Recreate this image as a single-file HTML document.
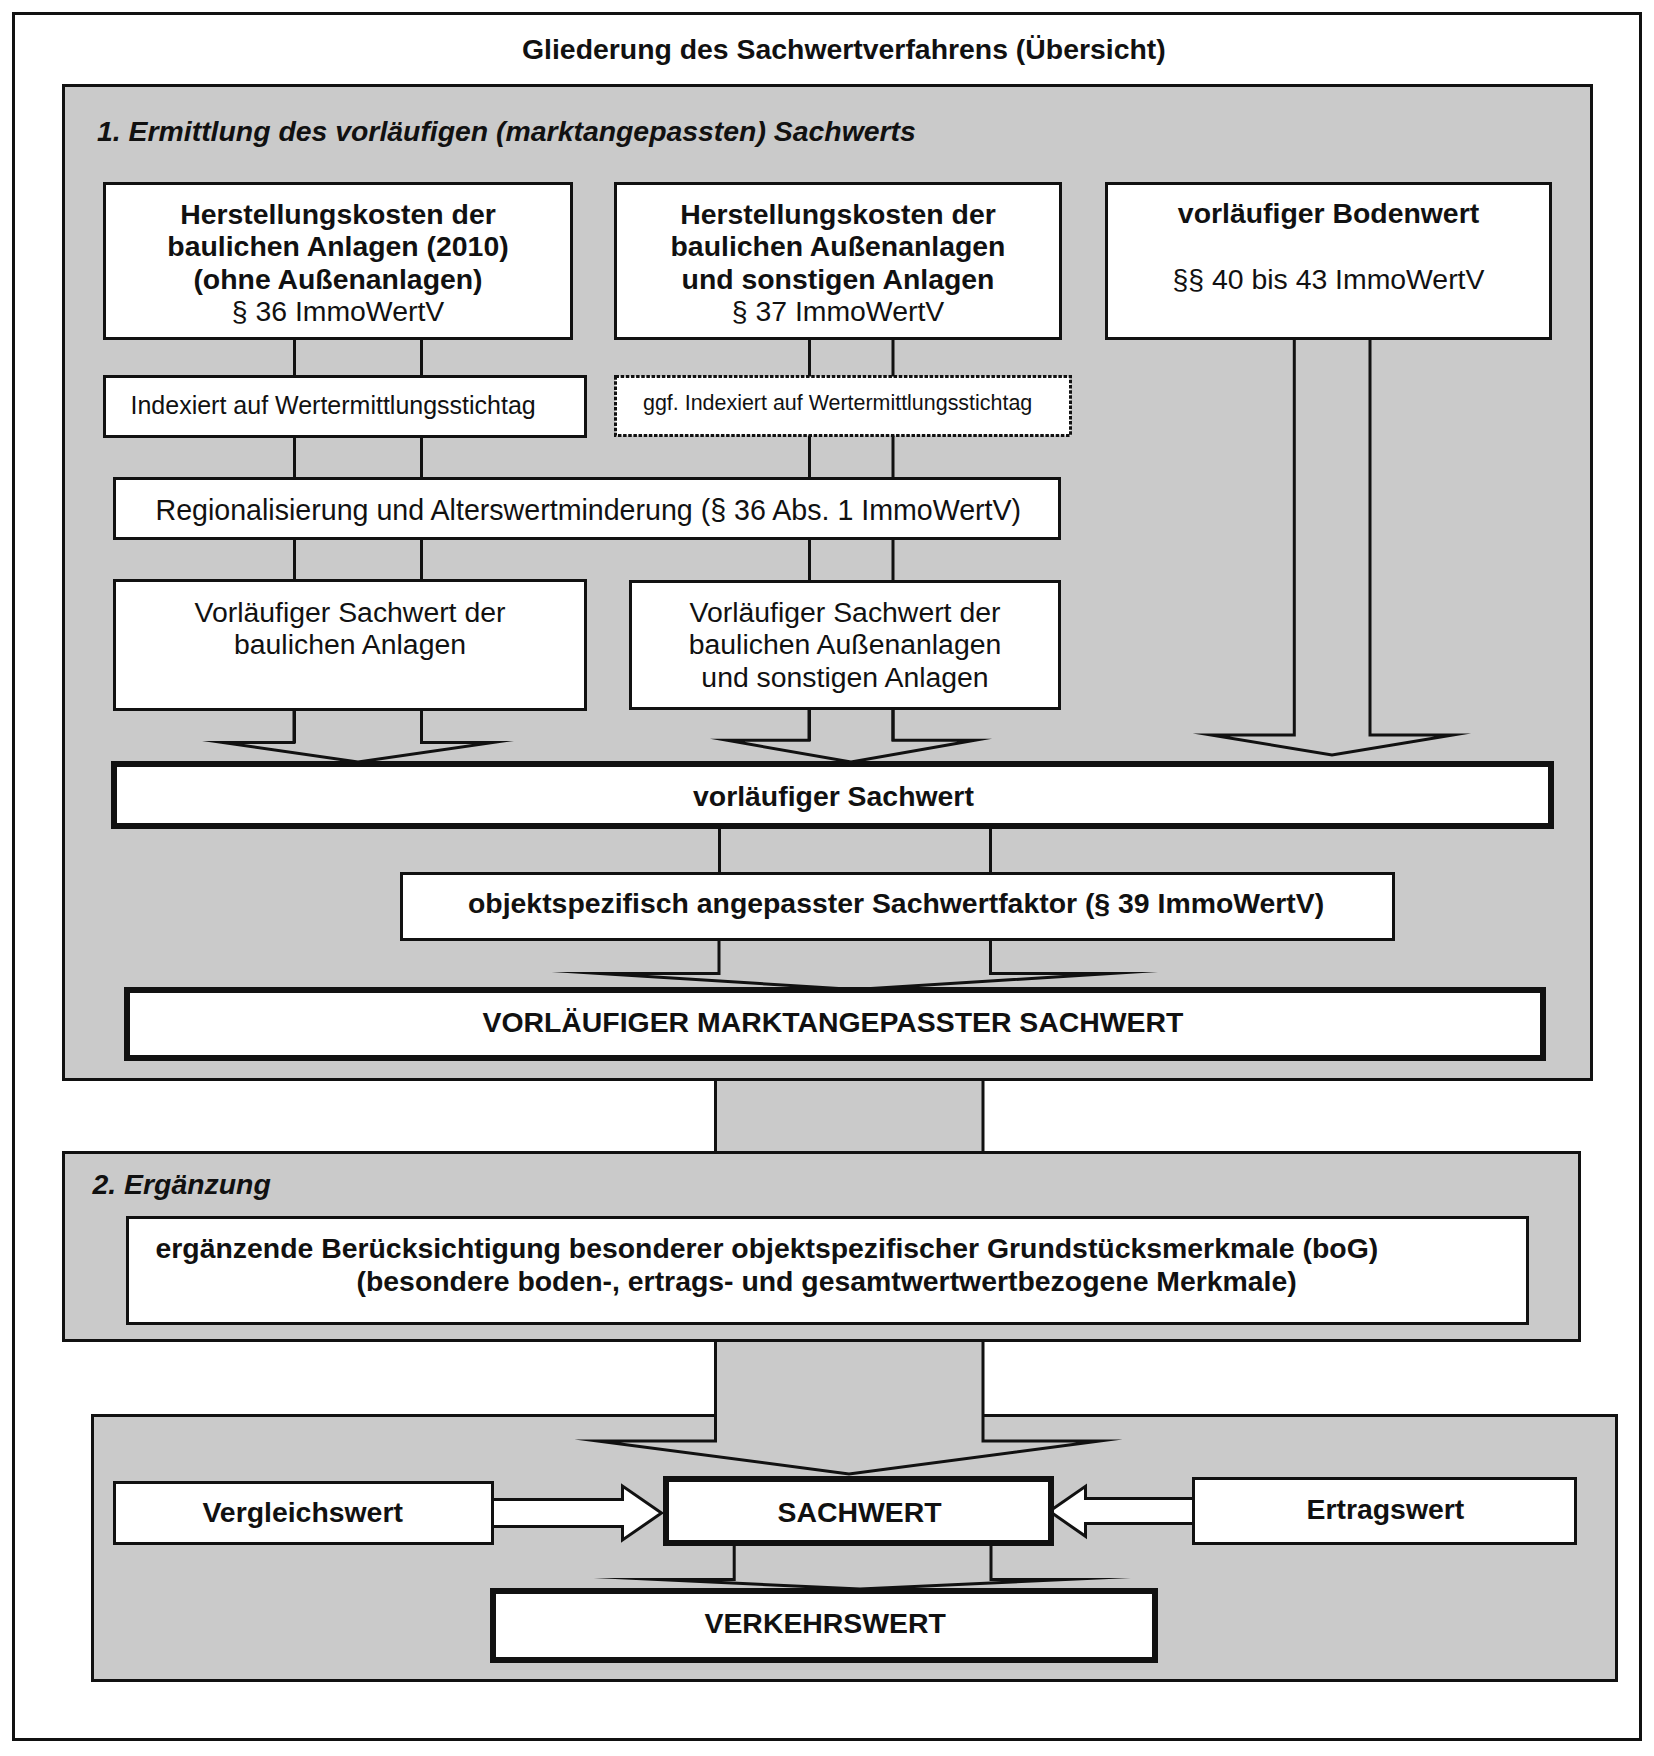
<!DOCTYPE html>
<html><head><meta charset="utf-8"><style>
html,body{margin:0;padding:0;background:#fff;}
svg{display:block;font-family:"Liberation Sans",sans-serif;fill:#111;}
svg text{fill:#111;}
</style></head><body>
<svg width="1654" height="1756" viewBox="0 0 1654 1756">
<rect x="13.5" y="13.5" width="1627.0" height="1726.0" fill="#fff" stroke="#111" stroke-width="3"/>
<text x="522" y="59" font-size="28.4" font-weight="bold" font-style="normal" text-anchor="start">Gliederung des Sachwertverfahrens (Übersicht)</text>
<rect x="63.5" y="85.5" width="1528.0" height="994.0" fill="#cacaca" stroke="#111" stroke-width="3"/>
<text x="97" y="141" font-size="28.4" font-weight="bold" font-style="italic" text-anchor="start">1. Ermittlung des vorläufigen (marktangepassten) Sachwerts</text>
<line x1="294.5" y1="338" x2="294.5" y2="743" stroke="#111" stroke-width="3"/>
<line x1="421.5" y1="338" x2="421.5" y2="743" stroke="#111" stroke-width="3"/>
<line x1="809.5" y1="338" x2="809.5" y2="741" stroke="#111" stroke-width="3"/>
<line x1="893" y1="338" x2="893" y2="741" stroke="#111" stroke-width="3"/>
<rect x="104.5" y="183.5" width="467.0" height="155.0" fill="#fff" stroke="#111" stroke-width="3"/>
<text x="338" y="224" font-size="28.4" font-weight="bold" font-style="normal" text-anchor="middle">Herstellungskosten der</text>
<text x="338" y="256" font-size="28.4" font-weight="bold" font-style="normal" text-anchor="middle">baulichen Anlagen (2010)</text>
<text x="338" y="288.5" font-size="28.4" font-weight="bold" font-style="normal" text-anchor="middle">(ohne Außenanlagen)</text>
<text x="338" y="321" font-size="28.4" font-weight="normal" font-style="normal" text-anchor="middle">§ 36 ImmoWertV</text>
<rect x="615.5" y="183.5" width="445.0" height="155.0" fill="#fff" stroke="#111" stroke-width="3"/>
<text x="838" y="224" font-size="28.4" font-weight="bold" font-style="normal" text-anchor="middle">Herstellungskosten der</text>
<text x="838" y="256" font-size="28.4" font-weight="bold" font-style="normal" text-anchor="middle">baulichen Außenanlagen</text>
<text x="838" y="288.5" font-size="28.4" font-weight="bold" font-style="normal" text-anchor="middle">und sonstigen Anlagen</text>
<text x="838" y="321" font-size="28.4" font-weight="normal" font-style="normal" text-anchor="middle">§ 37 ImmoWertV</text>
<rect x="1106.5" y="183.5" width="444.0" height="155.0" fill="#fff" stroke="#111" stroke-width="3"/>
<text x="1328.5" y="223" font-size="28.4" font-weight="bold" font-style="normal" text-anchor="middle">vorläufiger Bodenwert</text>
<text x="1328.5" y="289" font-size="28.4" font-weight="normal" font-style="normal" text-anchor="middle">§§ 40 bis 43 ImmoWertV</text>
<rect x="104.5" y="376.5" width="481.0" height="60.0" fill="#fff" stroke="#111" stroke-width="3"/>
<text x="130.5" y="413.5" font-size="25.0" font-weight="normal" font-style="normal" text-anchor="start">Indexiert auf Wertermittlungsstichtag</text>
<rect x="615.5" y="376.5" width="455.0" height="59.0" fill="#fff" stroke="#111" stroke-width="3" stroke-dasharray="3.5,1.65"/>
<text x="643" y="410" font-size="21.45" font-weight="normal" font-style="normal" text-anchor="start">ggf. Indexiert auf Wertermittlungsstichtag</text>
<rect x="114.5" y="478.5" width="945.0" height="60.0" fill="#fff" stroke="#111" stroke-width="3"/>
<text x="155.5" y="519.5" font-size="28.6" font-weight="normal" font-style="normal" text-anchor="start">Regionalisierung und Alterswertminderung (§ 36 Abs. 1 ImmoWertV)</text>
<rect x="114.5" y="580.5" width="471.0" height="129.0" fill="#fff" stroke="#111" stroke-width="3"/>
<text x="350" y="622" font-size="28.4" font-weight="normal" font-style="normal" text-anchor="middle">Vorläufiger Sachwert der</text>
<text x="350" y="654" font-size="28.4" font-weight="normal" font-style="normal" text-anchor="middle">baulichen Anlagen</text>
<rect x="630.5" y="581.5" width="429.0" height="127.0" fill="#fff" stroke="#111" stroke-width="3"/>
<text x="845" y="621.5" font-size="28.4" font-weight="normal" font-style="normal" text-anchor="middle">Vorläufiger Sachwert der</text>
<text x="845" y="654" font-size="28.4" font-weight="normal" font-style="normal" text-anchor="middle">baulichen Außenanlagen</text>
<text x="845" y="686.5" font-size="28.4" font-weight="normal" font-style="normal" text-anchor="middle">und sonstigen Anlagen</text>
<polyline points="294,710 294,742.5 222.9,742.5 358,762 493.1,742.5 421.5,742.5 421.5,710" fill="none" stroke="#111" stroke-width="3" stroke-linejoin="miter" stroke-miterlimit="100"/>
<polyline points="809,709 809,740.3 727.2,740.3 851,762 974.8,740.3 893,740.3 893,709" fill="none" stroke="#111" stroke-width="3" stroke-linejoin="miter" stroke-miterlimit="100"/>
<polyline points="1294.3,339 1294.3,735 1211.0,735 1332,755 1452.8,735 1370,735 1370,339" fill="none" stroke="#111" stroke-width="3" stroke-linejoin="miter" stroke-miterlimit="100"/>
<rect x="114.0" y="764.0" width="1437.0" height="62.0" fill="#fff" stroke="#111" stroke-width="6"/>
<text x="693" y="806" font-size="28.4" font-weight="bold" font-style="normal" text-anchor="start">vorläufiger Sachwert</text>
<line x1="719.5" y1="828" x2="719.5" y2="873" stroke="#111" stroke-width="3"/>
<line x1="990.5" y1="828" x2="990.5" y2="873" stroke="#111" stroke-width="3"/>
<rect x="401.5" y="873.5" width="992.0" height="66.0" fill="#fff" stroke="#111" stroke-width="3"/>
<text x="468" y="913" font-size="28.4" font-weight="bold" font-style="normal" text-anchor="start">objektspezifisch angepasster Sachwertfaktor (§ 39 ImmoWertV)</text>
<polyline points="719,940 719,973.5 599.5,973.5 855,989.5 1110.1,973.5 990.5,973.5 990.5,940" fill="none" stroke="#111" stroke-width="3" stroke-linejoin="miter" stroke-miterlimit="100"/>
<rect x="127.0" y="990.0" width="1416.0" height="68.0" fill="#fff" stroke="#111" stroke-width="6"/>
<text x="482.5" y="1032" font-size="28.4" font-weight="bold" font-style="normal" text-anchor="start">VORLÄUFIGER MARKTANGEPASSTER SACHWERT</text>
<rect x="715.5" y="1081" width="267.5" height="71" fill="#cacaca"/>
<line x1="715.5" y1="1081" x2="715.5" y2="1152" stroke="#111" stroke-width="3"/>
<line x1="983" y1="1081" x2="983" y2="1152" stroke="#111" stroke-width="3"/>
<rect x="63.5" y="1152.5" width="1516.0" height="188.0" fill="#cacaca" stroke="#111" stroke-width="3"/>
<text x="92.5" y="1193.5" font-size="28.4" font-weight="bold" font-style="italic" text-anchor="start">2. Ergänzung</text>
<rect x="127.5" y="1217.5" width="1400.0" height="106.0" fill="#fff" stroke="#111" stroke-width="3"/>
<text x="155.5" y="1258" font-size="28.4" font-weight="bold" font-style="normal" text-anchor="start">ergänzende Berücksichtigung besonderer objektspezifischer Grundstücksmerkmale (boG)</text>
<text x="356.5" y="1290.5" font-size="28.4" font-weight="bold" font-style="normal" text-anchor="start">(besondere boden-, ertrags- und gesamtwertwertbezogene Merkmale)</text>
<rect x="92.5" y="1415.5" width="1524.0" height="265.0" fill="#cacaca" stroke="#111" stroke-width="3"/>
<polygon points="715.5,1342 715.5,1441 620,1441 849,1474 1080,1441 983,1441 983,1342" fill="#cacaca"/>
<polyline points="715.5,1341 715.5,1441 597.5,1441 849,1474 1099.6,1441 983,1441 983,1341" fill="none" stroke="#111" stroke-width="3" stroke-linejoin="miter" stroke-miterlimit="100"/>
<polygon points="490,1499.5 622.5,1499.5 622.5,1486 661.5,1513 622.5,1540 622.5,1526.5 490,1526.5" fill="#fff" stroke="#111" stroke-width="3" stroke-linejoin="miter" stroke-miterlimit="10"/>
<rect x="114.5" y="1482.5" width="378.0" height="61.0" fill="#fff" stroke="#111" stroke-width="3"/>
<text x="202.5" y="1521.5" font-size="28.4" font-weight="bold" font-style="normal" text-anchor="start">Vergleichswert</text>
<polygon points="1197,1498.5 1085.5,1498.5 1085.5,1486.3 1049.5,1511.3 1085.5,1536.3 1085.5,1523.5 1197,1523.5" fill="#fff" stroke="#111" stroke-width="3" stroke-linejoin="miter" stroke-miterlimit="10"/>
<rect x="1193.5" y="1478.5" width="382.0" height="65.0" fill="#fff" stroke="#111" stroke-width="3"/>
<text x="1306.5" y="1519" font-size="28.4" font-weight="bold" font-style="normal" text-anchor="start">Ertragswert</text>
<polyline points="734.2,1545 734.2,1579.5 657.6,1579.5 860,1589 1065.9,1579.5 991,1579.5 991,1545" fill="none" stroke="#111" stroke-width="3" stroke-linejoin="miter" stroke-miterlimit="100"/>
<rect x="666.0" y="1479.0" width="385.0" height="64.0" fill="#fff" stroke="#111" stroke-width="6"/>
<text x="777.5" y="1521.5" font-size="28.4" font-weight="bold" font-style="normal" text-anchor="start">SACHWERT</text>
<rect x="493.0" y="1591.0" width="662.0" height="69.0" fill="#fff" stroke="#111" stroke-width="6"/>
<text x="704.5" y="1633" font-size="28.4" font-weight="bold" font-style="normal" text-anchor="start">VERKEHRSWERT</text>
</svg>
</body></html>
